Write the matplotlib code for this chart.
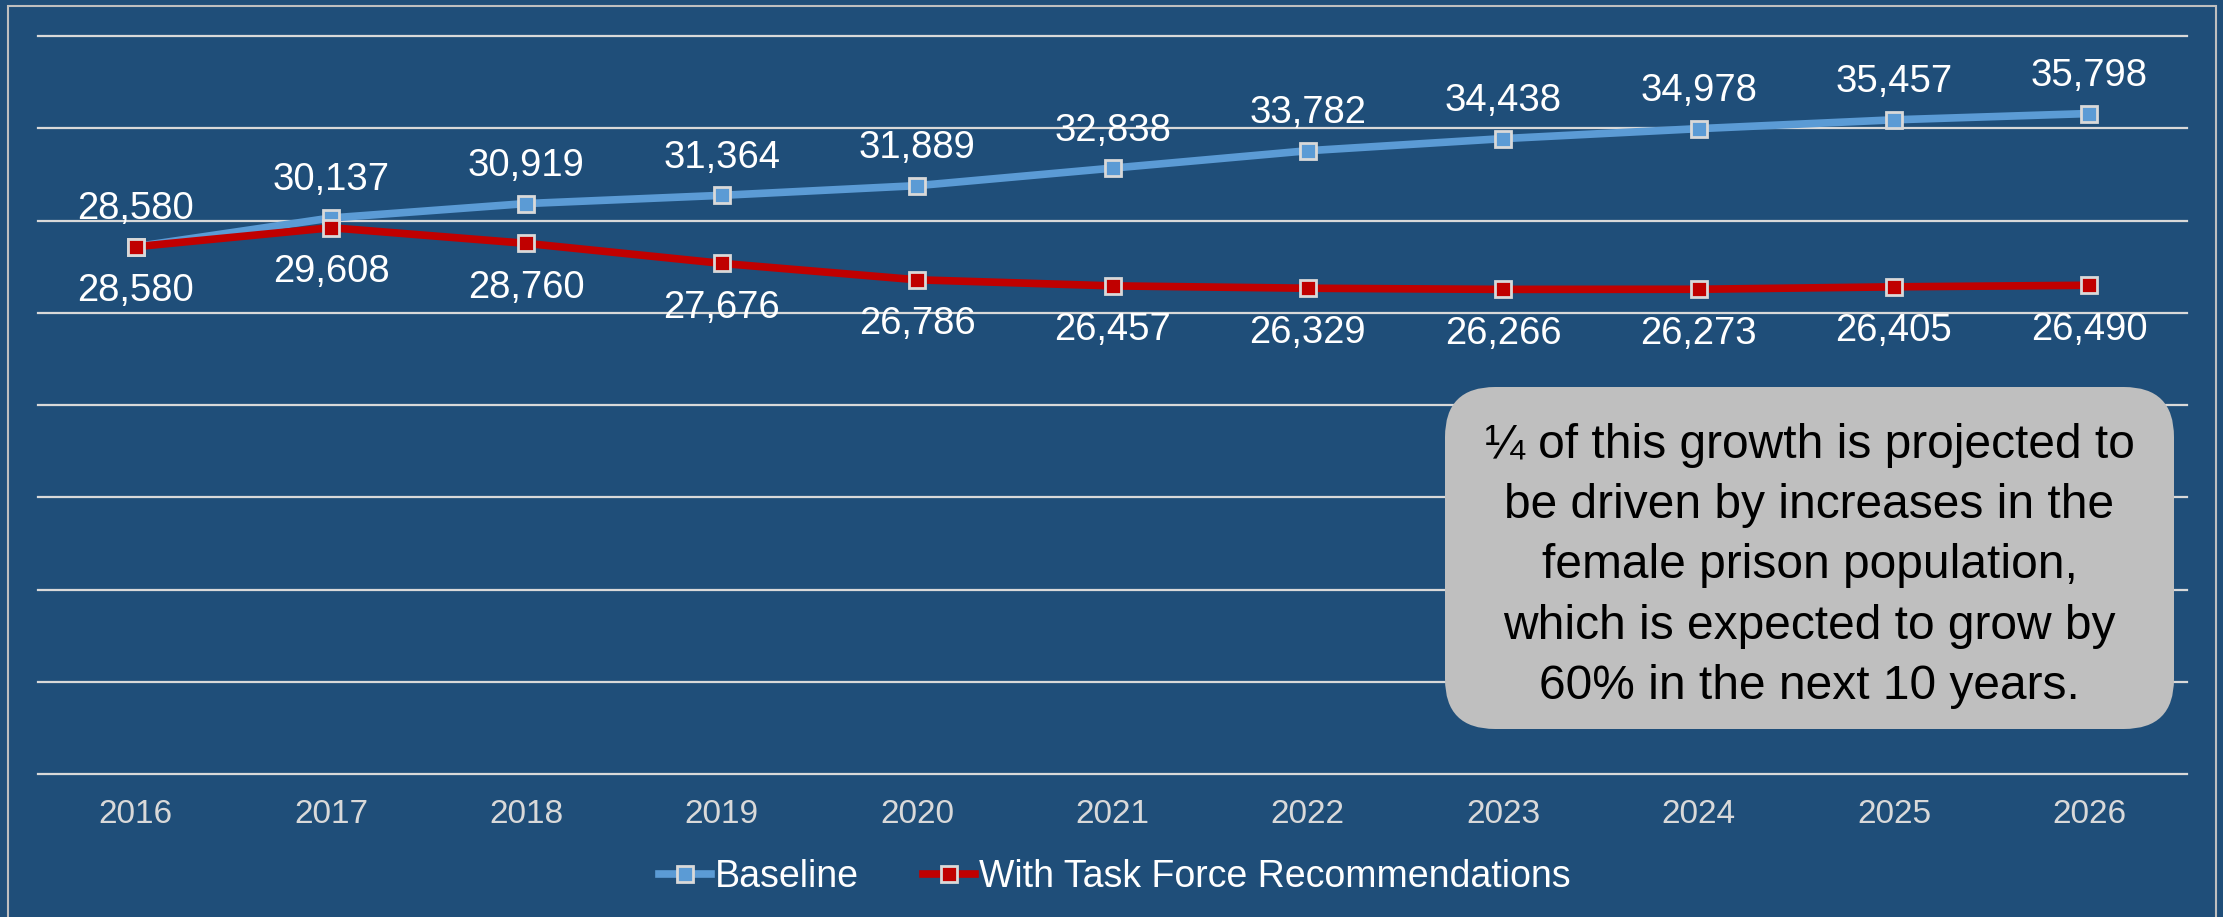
import matplotlib.pyplot as plt
from matplotlib.patches import FancyBboxPatch, Rectangle

years = ["2016", "2017", "2018", "2019", "2020", "2021", "2022", "2023", "2024", "2025", "2026"]
baseline = [28580, 30137, 30919, 31364, 31889, 32838, 33782, 34438, 34978, 35457, 35798]
task_force = [28580, 29608, 28760, 27676, 26786, 26457, 26329, 26266, 26273, 26405, 26490]
note = ("¼ of this growth is projected to\nbe driven by increases in the\nfemale prison population,\n"
        "which is expected to grow by\n60% in the next 10 years.")

plt.rcParams['font.family'] = ['Liberation Sans', 'DejaVu Sans']

bg = "#1F4E79"
fig = plt.figure(figsize=(22.23, 9.17), dpi=100, facecolor=bg)
ax = fig.add_axes([38 / 2223, 1 - 774 / 917, (2187 - 38) / 2223, (774 - 36) / 917])
ax.set_facecolor(bg)

x = list(range(len(years)))
ax.plot(x, baseline, color="#5B9BD5", lw=5.5, marker="s", ms=12,
        mfc="#5B9BD5", mec="#D9D9D9", mew=2, label="Baseline", zorder=3)
ax.plot(x, task_force, color="#C00000", lw=5.5, marker="s", ms=11,
        mfc="#C00000", mec="#D9D9D9", mew=2, label="With Task Force Recommendations", zorder=4)

# data labels: above for baseline, below for task force
for i, v in enumerate(baseline):
    ax.annotate(f"{v:,}", (i, v), xytext=(0, 27), textcoords="offset points",
                ha="center", va="center", color="white", fontsize=27.5)
for i, v in enumerate(task_force):
    ax.annotate(f"{v:,}", (i, v), xytext=(0, -32), textcoords="offset points",
                ha="center", va="center", color="white", fontsize=27.5)

ax.set_xlim(-0.5, len(years) - 0.5)
ax.set_ylim(0, 40000)
ax.set_yticks(range(0, 40001, 5000))
ax.set_xticks(x)
ax.set_xticklabels(years)
ax.tick_params(axis="x", length=0, pad=18, labelsize=24, labelcolor="#D9D9D9")
ax.tick_params(axis="y", length=0, labelleft=False)
ax.grid(axis="y", color="#D9D9D9", lw=1.6)
for gl in ax.get_ygridlines():
    gl.set_clip_on(False)
ax.set_axisbelow(True)
for s in ax.spines.values():
    s.set_visible(False)

fig.legend(loc="center", bbox_to_anchor=(0.5015, 1 - 877 / 917), ncol=2, frameon=False,
           fontsize=27, labelcolor="white", handlelength=1.4, handletextpad=0.1,
           columnspacing=1.7)

# outer frame
fig.patches.append(Rectangle((8 / 2223, -0.01), (2216 - 8) / 2223, 1.01 - 6 / 917,
                             transform=fig.transFigure, fill=False,
                             edgecolor="#BFBFBF", lw=1.5))

# call-out box
box = FancyBboxPatch((14.45, 1.88), 21.74 - 14.45, 5.30 - 1.88,
                     boxstyle="round,pad=0,rounding_size=0.5",
                     transform=fig.dpi_scale_trans, facecolor="#BFBFBF",
                     edgecolor="none", zorder=5)
fig.patches.append(box)
fig.text(18.095, 3.51, note, transform=fig.dpi_scale_trans, ha="center", va="center",
         multialignment="center", fontsize=34.5, linespacing=1.43, color="black", zorder=6)

fig.savefig("out.png", dpi=100, facecolor=bg)
